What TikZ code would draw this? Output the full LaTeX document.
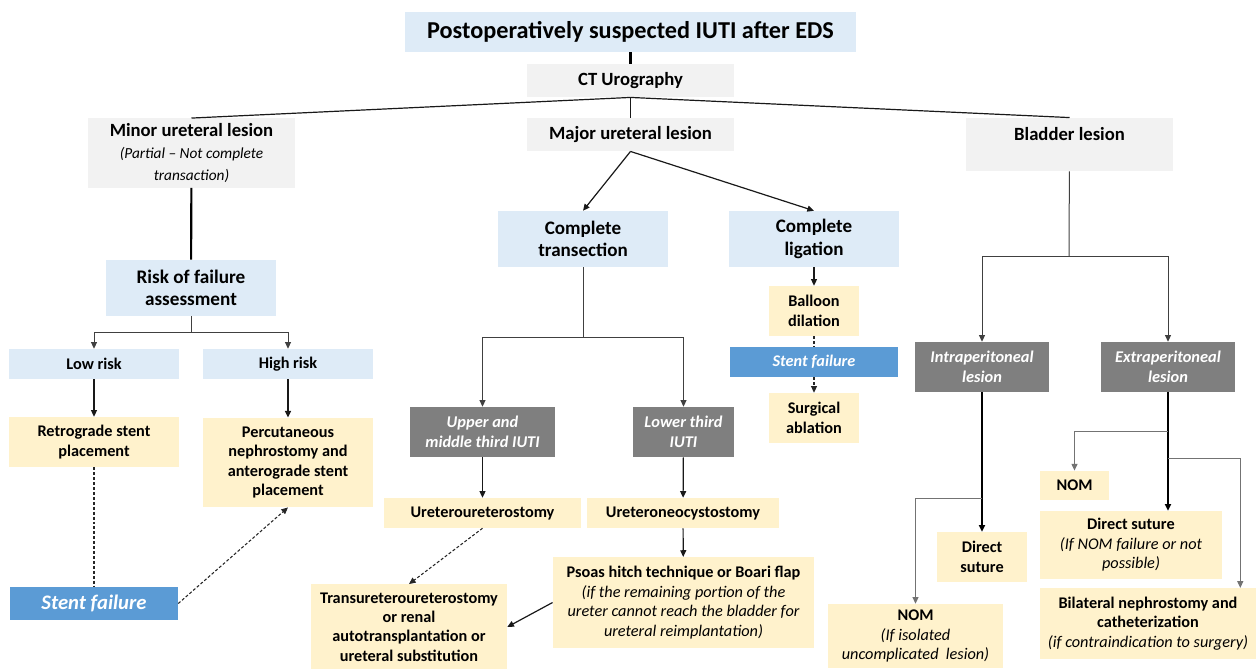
\documentclass[tikz,border=0pt]{standalone}
\usepackage{fontspec}
\setmainfont{Carlito}
\usetikzlibrary{arrows.meta}

\definecolor{paleblue}{HTML}{DEEBF7}
\definecolor{palegray}{HTML}{F2F2F2}
\definecolor{paleyellow}{HTML}{FFF2CC}
\definecolor{midgray}{HTML}{7F7F7F}
\definecolor{stentblue}{HTML}{5B9BD5}

\newcommand{\subnote}[2][12.2]{{\fontsize{#1}{15}\selectfont\mdseries\itshape #2}}

\begin{document}
\begin{tikzpicture}[x=0.75pt,y=-0.75pt,
  >={Triangle[length=5pt,width=4.5pt]},
  every node/.style={align=center,inner sep=0pt},
  bluebox/.style={rectangle,fill=paleblue},
  greybox/.style={rectangle,fill=palegray},
  yellowbox/.style={rectangle,fill=paleyellow},
  darkbox/.style={rectangle,fill=midgray,text=white,font=\fontsize{12.3}{15}\selectfont\bfseries\itshape},
  failbox/.style={rectangle,fill=stentblue,text=white},
  head/.style={font=\fontsize{14}{16.5}\selectfont\bfseries},
  txt/.style={font=\fontsize{12.2}{14.6}\selectfont\bfseries},
  link/.style={line width=0.9pt,draw=black!90},
  heavylink/.style={line width=1.6pt,draw=black},
  fork/.style={line width=0.75pt,draw=black!75},
  twig/.style={line width=0.75pt,draw=black!55},
  dashlink/.style={line width=0.8pt,draw=black!85,dash pattern=on 2.2pt off 1.5pt}]
\useasboundingbox (0,0) rectangle (1256,668);

% top of the tree
\node (title) at (630.5,32) [bluebox,minimum width=338pt,minimum height=30pt,font=\fontsize{18.2}{21}\selectfont\bfseries] {Postoperatively suspected IUTI after EDS};
\node (ct) at (630.5,80.5) [greybox,minimum width=155pt,minimum height=25pt,head] {CT Urography};
\node (minor) at (191.5,153) [greybox,minimum width=155pt,minimum height=52pt,head] {Minor ureteral lesion\\ \subnote[11.5]{(Partial -- Not complete}\\ \subnote[11.5]{transaction)}};
\node (major) at (630.5,134.5) [greybox,minimum width=155pt,minimum height=25pt,head] {Major ureteral lesion};
\node (bladder) at (1069.5,144.5) [greybox,minimum width=155pt,minimum height=40pt,head] {Bladder lesion\\ ~};

% minor lesion
\node (risk) at (191,288) [bluebox,minimum width=127.5pt,minimum height=42pt,font=\fontsize{14.4}{16.5}\selectfont\bfseries] {Risk of failure\\ assessment};
\node (low) at (94,364) [bluebox,minimum width=127.5pt,minimum height=22.5pt,txt] {Low risk};
\node (high) at (288,364) [bluebox,minimum width=127.5pt,minimum height=22.5pt,txt] {High risk};
\node (retro) at (94,442) [yellowbox,minimum width=127.5pt,minimum height=37.5pt,txt] {Retrograde stent\\ placement};
\node (percu) at (288,462.5) [yellowbox,minimum width=127.5pt,minimum height=67pt,txt] {Percutaneous\\ nephrostomy and\\ anterograde stent\\ placement};
\node (failA) at (94,603.5) [failbox,minimum width=126pt,minimum height=25pt,font=\fontsize{15.5}{18}\selectfont\bfseries\itshape] {Stent failure};

% major lesion
\node (trans) at (583,239) [bluebox,minimum width=127.5pt,minimum height=42pt,font=\fontsize{14.3}{17}\selectfont\bfseries] {Complete\\ transection};
\node (lig) at (814,239) [bluebox,minimum width=127.5pt,minimum height=42pt,font=\fontsize{14.3}{17}\selectfont\bfseries] {Complete\\ ligation};
\node (upper) at (482.5,432) [darkbox,minimum width=109pt,minimum height=37.5pt] {Upper and\\ middle third IUTI};
\node (lower) at (683.5,432) [darkbox,minimum width=76pt,minimum height=37.5pt] {Lower third\\ IUTI};
\node (uu) at (482.5,513) [yellowbox,minimum width=148pt,minimum height=22.5pt,txt] {Ureteroureterostomy};
\node (unc) at (683,513) [yellowbox,minimum width=144pt,minimum height=22.5pt,txt] {Ureteroneocystostomy};
\node (psoas) at (683.5,602.5) [yellowbox,minimum width=196pt,minimum height=68pt,txt] {Psoas hitch technique or Boari flap\\ \subnote{(if the remaining portion of the}\\ \subnote{ureter cannot reach the bladder for}\\ \subnote{ureteral reimplantation)}};
\node (tuu) at (409,627) [yellowbox,minimum width=147pt,minimum height=64pt,txt] {Transureteroureterostomy\\ or renal\\ autotransplantation or\\ ureteral substitution};
\node (balloon) at (814,311) [yellowbox,minimum width=67.5pt,minimum height=37.5pt,txt] {Balloon\\ dilation};
\node (failB) at (814,362) [failbox,minimum width=126pt,minimum height=22.5pt,font=\fontsize{12.2}{15}\selectfont\bfseries\itshape] {Stent failure};
\node (surg) at (814,418) [yellowbox,minimum width=67.5pt,minimum height=37.5pt,txt] {Surgical\\ ablation};

% bladder lesion
\node (intra) at (982,367) [darkbox,minimum width=100.5pt,minimum height=37.5pt] {Intraperitoneal\\ lesion};
\node (extra) at (1168,367) [darkbox,minimum width=100.5pt,minimum height=37.5pt] {Extraperitoneal\\ lesion};
\node (sutA) at (982,557) [yellowbox,minimum width=67.5pt,minimum height=37.5pt,txt] {Direct\\ suture};
\node (nomA) at (915.5,636) [yellowbox,minimum width=131pt,minimum height=48pt,txt] {NOM\\ \subnote{(If isolated}\\ \subnote{uncomplicated~ lesion)}};
\node (nomB) at (1074.5,485.5) [yellowbox,minimum width=52pt,minimum height=22pt,txt] {NOM};
\node (sutB) at (1131,545) [yellowbox,minimum width=136.5pt,minimum height=51pt,txt] {Direct suture\\ \subnote{(If NOM failure or not}\\ \subnote{possible)}};
\node (bil) at (1148,623.5) [yellowbox,minimum width=162pt,minimum height=53pt,txt] {Bilateral nephrostomy and\\ catheterization\\ \subnote{(if contraindication to surgery)}};

\coordinate (rj) at (191,332);
\coordinate (tj) at (583,337);
\coordinate (bj) at (1069,256);
\coordinate (ij) at (982,498);
\coordinate (ej1) at (1168,431);
\coordinate (ej2) at (1168,458);

\draw [heavylink] (title) -- (ct);
\draw [link] (ct.south) -- (minor.north);
\draw [link] (ct.south) -- (major.north);
\draw [link] (ct.south) -- (bladder.north);

\draw [heavylink] (minor) -- (risk);
\draw [fork] (risk) -- (rj);
\draw [fork,->] (rj) -| (low);
\draw [fork,->] (rj) -| (high);
\draw [link,->] (low) -- (retro);
\draw [link,->] (high) -- (percu);
\draw [dashlink] (retro) -- (failA);
\draw [dashlink,->] (failA.east) -- (percu.south);

\draw [link,->] (major.south) -- (trans.north);
\draw [link,->] (major.south) -- (lig.north);
\draw [fork] (trans) -- (tj);
\draw [fork,->] (tj) -| (upper);
\draw [fork,->] (tj) -| (lower);
\draw [link,->] (upper) -- (uu);
\draw [link,->] (lower) -- (unc);
\draw [link,->] (unc) -- (psoas);
\draw [dashlink,->] (uu.south) -- (tuu.north);
\draw [link,->] (psoas.west) -- (tuu.east);
\draw [link,->] (lig) -- (balloon);
\draw [dashlink] (balloon) -- (failB);
\draw [dashlink,->] (failB) -- (surg);

\draw [fork] (bladder) -- (bj);
\draw [fork,->] (bj) -| (intra);
\draw [fork,->] (bj) -| (extra);
\draw [heavylink,->] (intra) -- (sutA);
\draw [twig,->] (ij) -| (nomA);
\draw [heavylink,->] (extra.south) -- (extra.south |- sutB.north);
\draw [twig,->] (ej1) -| (nomB);
\draw [twig,->] (ej2) -| ([xshift=-12pt]bil.north east);

\end{tikzpicture}
\end{document}
